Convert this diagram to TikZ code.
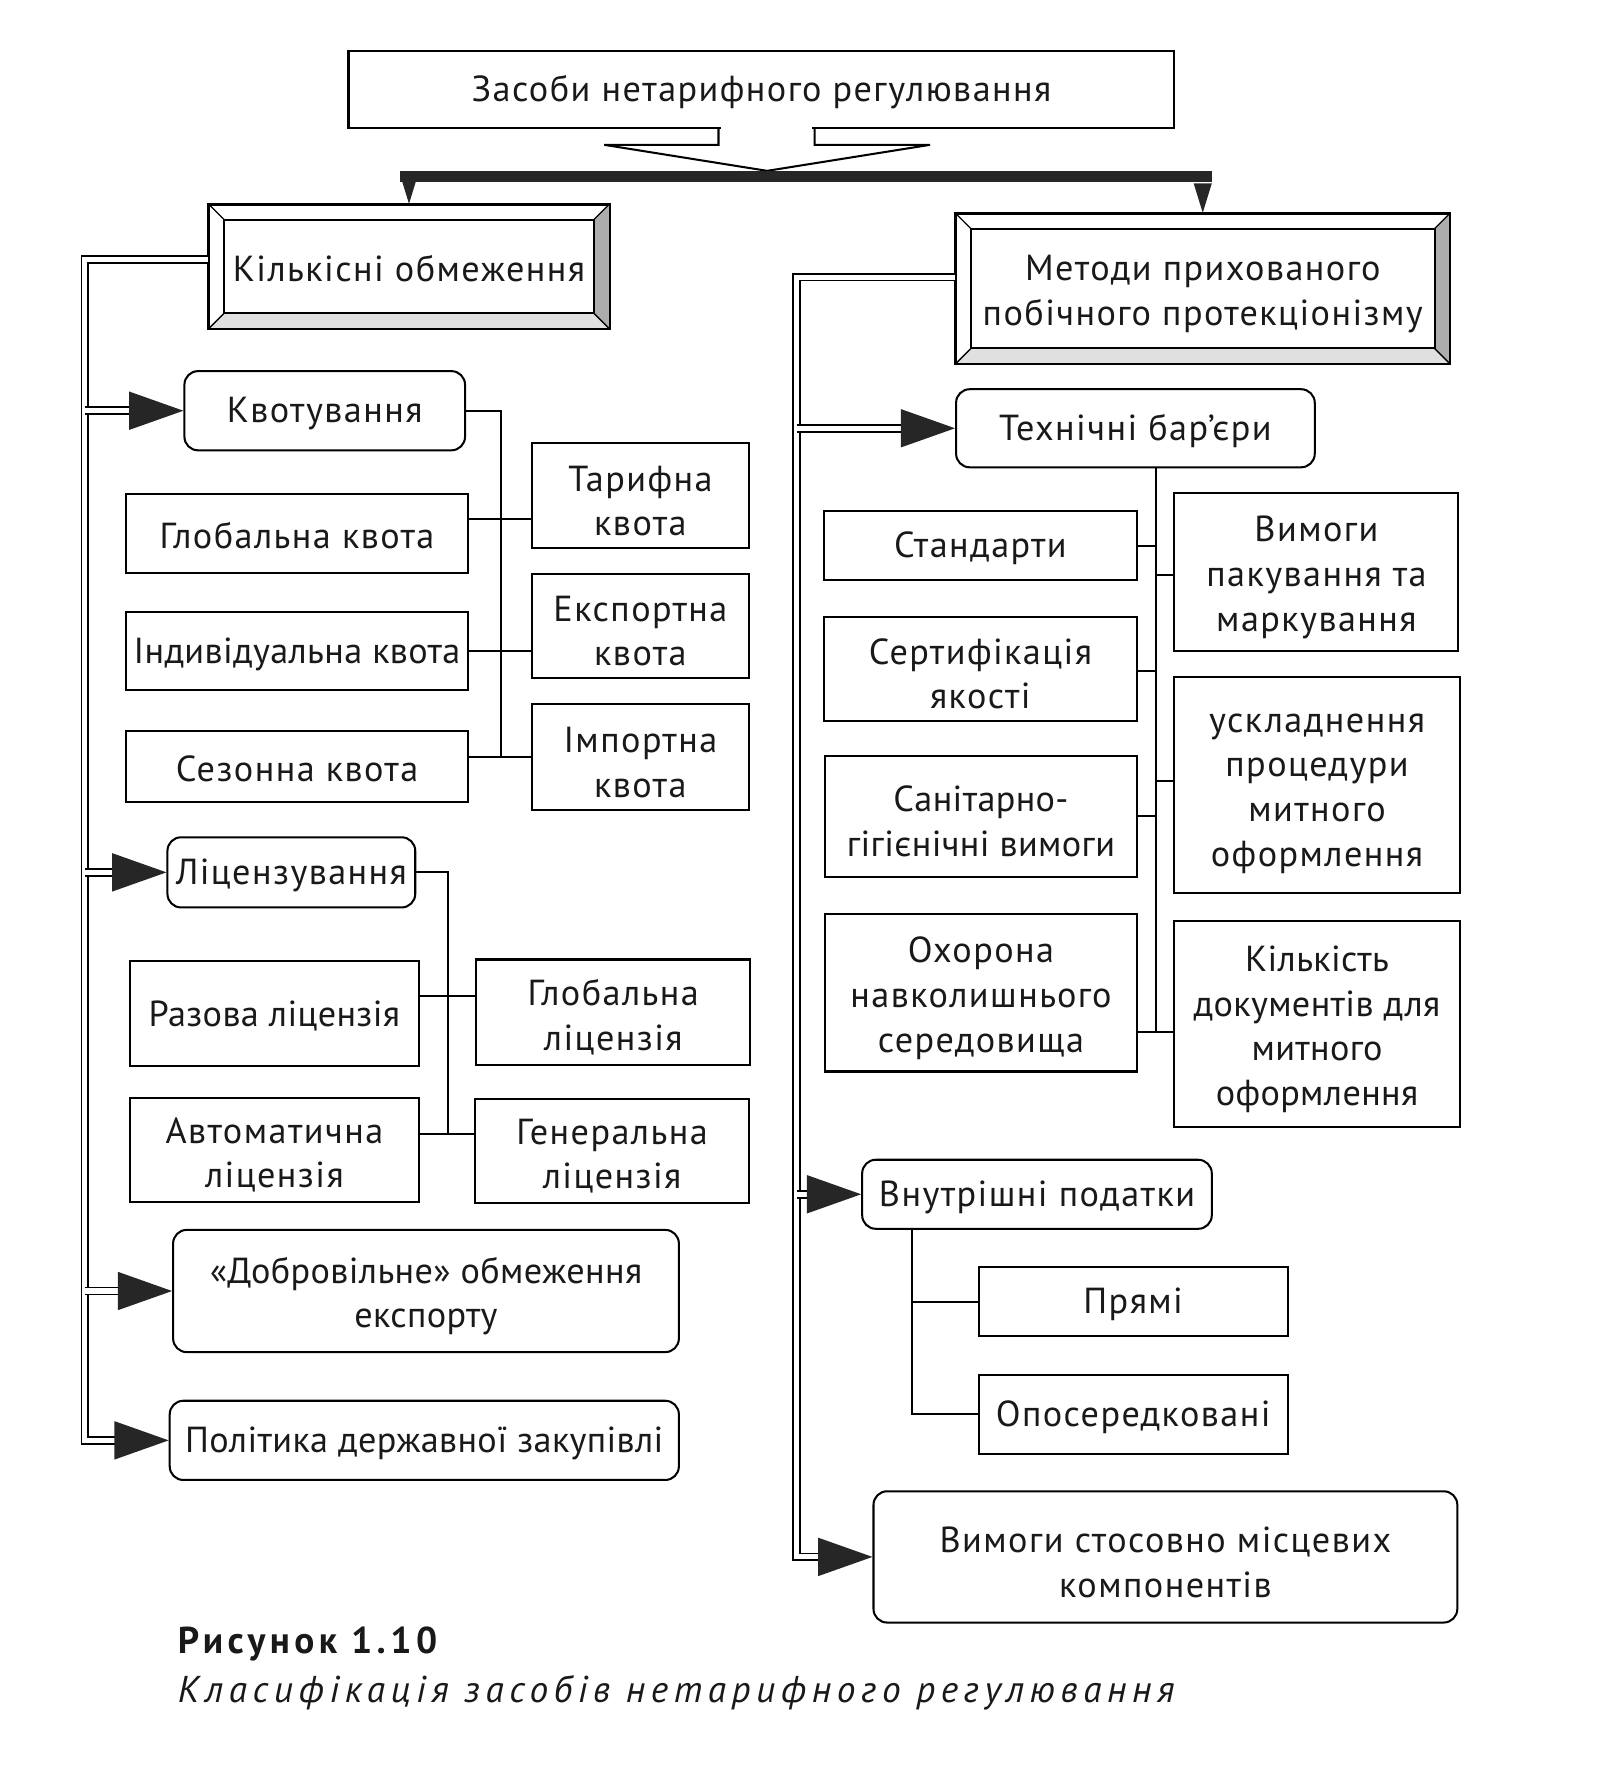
\documentclass[tikz,border=0pt]{standalone}
\usepackage{fontspec}
\setmainfont{PT Sans}[LetterSpace=4]
\newfontfamily\condfamily[LetterSpace=1]{PT Sans}
\newfontfamily\capfamily[LetterSpace=15]{PT Sans}
\newfontfamily\figfamily[LetterSpace=12]{PT Sans}
\usetikzlibrary{calc}
\newcommand\fsz{\fontsize{32pt}{39.5pt}\selectfont}
\newcommand\fszc{\condfamily\fontsize{32pt}{39.5pt}\selectfont}
\newcommand\capfnt{\capfamily\itshape\fontsize{33pt}{39.5pt}\selectfont}
\newcommand\figfnt{\figfamily\bfseries\fontsize{33pt}{39.5pt}\selectfont}
% bevelled frame round a named node
\newcommand\bevel[1]{%
  \coordinate (#1-a) at ([shift={(14pt,-14pt)}]#1.north west);
  \coordinate (#1-b) at ([shift={(-14pt,-14pt)}]#1.north east);
  \coordinate (#1-c) at ([shift={(-14pt,14pt)}]#1.south east);
  \coordinate (#1-d) at ([shift={(14pt,14pt)}]#1.south west);
  \fill[black!32] (#1.north east) -- (#1.south east) -- (#1-c) -- (#1-b) -- cycle;
  \fill[black!12] (#1.south west) -- (#1.south east) -- (#1-c) -- (#1-d) -- cycle;
  \draw[line width=1.8pt] (#1.north west) rectangle (#1.south east);
  \draw[line width=1.8pt] (#1-a) rectangle (#1-c);
  \draw[line width=1.2pt] (#1.north west) -- (#1-a) (#1.north east) -- (#1-b)
    (#1.south east) -- (#1-c) (#1.south west) -- (#1-d);
}
\tikzset{
  box/.style={draw, line width=1.8pt, font=\fsz, text=black!90, align=center,
    inner sep=0pt, ln1},
  rbox/.style={box, rounded corners=12pt},
  sz/.style 2 args={minimum width=#1pt, minimum height=#2pt},
  ln1/.style={text height=27.5pt},
  ln2/.style={text height=71.5pt},
  ln3/.style={text height=111pt},
  ln4/.style={text height=150.5pt},
  link/.style={line width=1.8pt},
  dbl/.style={double, double distance=4.5pt, line width=1.5pt},
  head/.style={fill=black!85},
}
\begin{document}
\begin{tikzpicture}[x=1pt, y=-1pt]
  \useasboundingbox (0,0) rectangle (1428,1567);

  % top level
  \node[box, sz={730}{68}] (top) at (673,79) {Засоби нетарифного регулювання};
  \node[box, sz={353}{109}] (kq) at (361.5,235.5) {Кількісні обмеження};
  \node[box, sz={436}{132}, ln2] (mp) at (1063,255) {Методи прихованого\\побічного протекціонізму};
  \bevel{kq}
  \bevel{mp}

  % left branch
  \node[rbox, sz={248}{70}] (kvot) at (287,363) {Квотування};
  \node[box, sz={303}{69}] (gkv) at (262.5,471.5) {Глобальна квота};
  \node[box, sz={303}{69}, font=\fszc] (ikv) at (262.5,575.5) {Індивідуальна квота};
  \node[box, sz={303}{63}] (skv) at (262.5,677.5) {Сезонна квота};
  \node[box, sz={192}{93}, ln2] (tkv) at (566,438) {Тарифна\\квота};
  \node[box, sz={192}{92}, ln2] (ekv) at (566,553) {Експортна\\квота};
  \node[box, sz={192}{93}, ln2] (imkv) at (566,669) {Імпортна\\квота};
  \node[rbox, sz={219}{62}] (lic) at (257.5,771) {Ліцензування};
  \node[box, sz={255}{93}, font=\fszc] (rl) at (242.5,895.5) {Разова ліцензія};
  \node[box, sz={242}{93}, ln2] (gl) at (542,894.5) {Глобальна\\ліцензія};
  \node[box, sz={255}{92}, ln2] (al) at (242.5,1016) {Автоматична\\ліцензія};
  \node[box, sz={242}{92}, ln2] (genl) at (541,1017) {Генеральна\\ліцензія};
  \node[rbox, sz={447}{108}, font=\fszc, ln2] (dobr) at (376.5,1141) {«Добровільне» обмеження\\експорту};
  \node[rbox, sz={450}{70}, font=\fszc] (polit) at (375,1273) {Політика державної закупівлі};

  % right branch
  \node[rbox, sz={317}{69}] (tb) at (1003.5,378.5) {Технічні бар’єри};
  \node[box, sz={277}{61}] (st) at (866.5,482.5) {Стандарти};
  \node[box, sz={277}{92}, ln2] (sert) at (866.5,591) {Сертифікація\\якості};
  \node[box, sz={276}{107}, font=\fszc, ln2] (san) at (867,721.5) {Санітарно-\\гігієнічні вимоги};
  \node[box, sz={276}{139}, ln3] (ohor) at (867,877.5) {Охорона\\навколишнього\\середовища};
  \node[box, sz={251}{139}, ln3] (pak) at (1163.5,505.5) {Вимоги\\пакування та\\маркування};
  \node[box, sz={252}{191}, ln4] (uskl) at (1164,693.5) {ускладнення\\процедури\\митного\\оформлення};
  \node[box, sz={252}{182}, font=\fszc, ln4] (kdok) at (1164,905) {Кількість\\документів для\\митного\\оформлення};
  \node[rbox, sz={309}{61}] (vp) at (916.5,1055.5) {Внутрішні податки};
  \node[box, sz={273}{61}] (pr) at (1001.5,1150.5) {Прямі};
  \node[box, sz={273}{70}] (op) at (1001.5,1250) {Опосередковані};
  \node[rbox, sz={516}{116}, ln2] (mk) at (1030,1376) {Вимоги стосовно місцевих\\компонентів};

  % caption
  \node[anchor=west, inner xsep=0pt, font=\figfnt, text=black!90] (fig) at (157,1453) {Рисунок 1.10};
  \node[anchor=west, inner xsep=0pt, font=\capfnt, text=black!90] (cap) at (157,1496) {Класифікація засобів нетарифного регулювання};

  % funnel under the top box and the thick bar
  \coordinate (apex) at (678,151);
  \draw[white, line width=3pt] (top.south -| 637,0) -- (top.south -| 718,0);
  \draw[link] (top.south -| 635,0) -- (635,128) -- (534,128) -- (apex)
    -- (822,128) -- (720,128) -- (top.south -| 720,0);
  \draw[line width=10pt, black!85, shorten <=-8pt, shorten >=-8pt]
    (kq.north |- 0,156) -- (mp.north |- 0,156);
  \foreach \n in {kq,mp}
    \fill[head] (\n.north) -- ++(-8pt,26pt) -- ++(16pt,0) -- cycle;

  % double buses
  \coordinate (lb) at (75,0);
  \coordinate (rb) at (704,0);
  \draw[dbl] ([yshift=6pt]kq.west) -- (lb |- 0,229.5) -- (lb |- polit.west) -- ([xshift=-44pt]polit.west);
  \foreach \n in {kvot,lic,dobr}
    \draw[dbl] (lb |- \n.west) -- ([xshift=-44pt]\n.west);
  \draw[dbl] ([yshift=10pt]mp.west) -- (rb |- 0,245) -- (rb |- mk.west) -- ([xshift=-44pt]mk.west);
  \foreach \n in {tb,vp}
    \draw[dbl] (rb |- \n.west) -- ([xshift=-44pt]\n.west);
  \foreach \n in {kvot,lic,dobr,polit,tb,vp,mk}
    \fill[head] (\n.west) -- ++(-48pt,17pt) -- ++(0,-34pt) -- cycle;

  % quotas
  \coordinate (kt) at (443,0);
  \draw[link] (kvot.east) -| (kt |- imkv.west);
  \draw[link] (gkv.east |- 0,459) -- (tkv.west |- 0,459);
  \draw[link] (ikv.east) -- (ekv.west |- ikv.east);
  \draw[link] (skv.east |- imkv.west) -- (imkv.west);

  % licences
  \coordinate (lt) at (396,0);
  \draw[link] (lic.east) -| (lt |- 0,1002);
  \draw[link] (rl.east |- 0,880) -- (gl.west |- 0,880);
  \draw[link] (al.east |- 0,1002) -- (genl.west |- 0,1002);

  % technical barriers
  \coordinate (tt) at (1022,0);
  \draw[link] (tt |- tb.south) -- (tt |- 0,912);
  \draw[link] (st.east) -- (tt |- st.east);
  \draw[link] (tt |- 0,508) -- (pak.west |- 0,508);
  \draw[link] (sert.east |- 0,593) -- (tt |- 0,593);
  \draw[link] (tt |- 0,690) -- (uskl.west |- 0,690);
  \draw[link] (san.east) -- (tt |- san.east);
  \draw[link] (ohor.east |- 0,912) -- (kdok.west |- 0,912);

  % internal taxes
  \coordinate (vt) at (806,0);
  \draw[link] (vt |- vp.south) |- (op.west);
  \draw[link] (vt |- pr.west) -- (pr.west);
\end{tikzpicture}
\end{document}
